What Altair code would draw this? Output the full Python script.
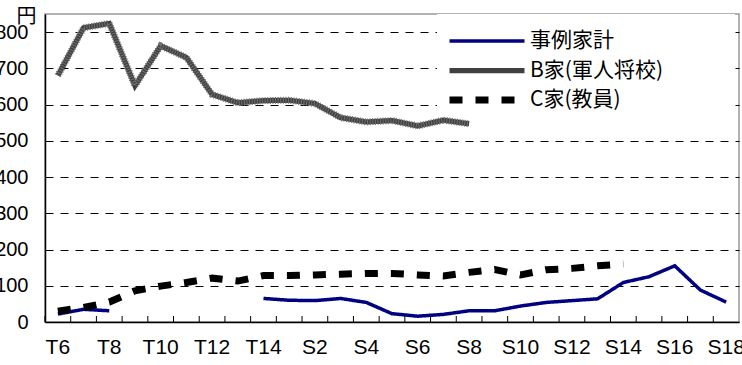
import altair as alt
import pandas as pd

# ---- data ----
categories = ["T6", "T7", "T8", "T9", "T10", "T11", "T12", "T13", "T14", "S1",
              "S2", "S3", "S4", "S5", "S6", "S7", "S8", "S9", "S10", "S11",
              "S12", "S13", "S14", "S15", "S16", "S17", "S18"]
shown_labels = ["T6", "T8", "T10", "T12", "T14", "S2", "S4", "S6", "S8",
                "S10", "S12", "S14", "S16", "S18"]
series_names = ["事例家計", "B家(軍人将校)", "C家(教員)"]

jirei = [22, 35, 31, None, None, None, None, None, 65, 60, 59, 65, 54, 23,
         16, 21, 31, 31, 44, 54, 59, 64, 109, 125, 155, 88, 55]
b_ke = [680, 812, 824, 652, 762, 730, 628, 605, 611, 612, 603, 564, 552, 556,
        541, 557, 547, None, None, None, None, None, None, None, None, None, None]
c_ke = [30, 40, 55, 86, 99, 109, 121, 113, 128, 128, 130, 132, 134, 134, 130,
        127, 137, 145, 130, 144, 148, 155, 160, None, None, None, None]

y_ticks = [0, 100, 200, 300, 400, 500, 600, 700, 800]

# ---- long table, with a segment id so gaps break the line ----
rows = []
for name, vals in zip(series_names, [jirei, b_ke, c_ke]):
    seg = 0
    for cat, v in zip(categories, vals):
        if v is None:
            seg += 1
            continue
        rows.append({"cat": cat, "value": v, "series": name, "seg": f"{name}-{seg}"})
df = pd.DataFrame(rows)
df_b = df[df["series"] == series_names[1]]
df_cat = pd.DataFrame({"cat": categories})

W, H = 694, 308

x_scale = alt.Scale(type="band", domain=categories, paddingInner=0, paddingOuter=0)
x_axis = alt.Axis(values=shown_labels, title=None, labelAngle=0, ticks=False,
                  grid=False, labelFont="Liberation Sans", labelFontSize=21,
                  labelColor="black", labelPadding=14, domainColor="black",
                  domainWidth=1.5)
y_scale = alt.Scale(domain=[0, 850], nice=False, zero=True)
y_axis = alt.Axis(values=y_ticks, title="円", titleAngle=0, titleAlign="center",
                  titleBaseline="middle", titleX=-19, titleY=2,
                  titleFont="Noto Sans CJK JP", titleFontSize=20,
                  titleFontWeight="normal", titleColor="black",
                  ticks=False, grid=True, gridColor="black", gridDash=[8, 7],
                  gridWidth=1, labelFont="Liberation Sans", labelFontSize=20,
                  labelColor="black", labelPadding=17, domainColor="black",
                  domainWidth=1.5)

x_enc = alt.X("cat:N", sort=categories, scale=x_scale, axis=x_axis)
y_enc = alt.Y("value:Q", scale=y_scale, axis=y_axis)

leg = alt.Legend(title=None, orient="none", legendX=401, legendY=16,
                 symbolType="stroke", symbolSize=5625, labelFont="Noto Sans CJK JP",
                 labelFontSize=21, labelColor="black", labelOffset=2,
                 clipHeight=22, rowPadding=7.5, padding=0)

# white box behind legend (covers gridlines like the original)
legend_box = alt.Chart(pd.DataFrame({"k": [0]})).mark_rect(fill="white").encode(
    x=alt.value(392), x2=alt.value(690), y=alt.value(0), y2=alt.value(106)
)

lines = alt.Chart(df).mark_line(strokeCap="butt", strokeJoin="miter").encode(
    x=x_enc,
    y=y_enc,
    detail="seg:N",
    color=alt.Color("series:N", sort=series_names,
                    scale=alt.Scale(domain=series_names,
                                    range=["#000080", "#404040", "#000000"]),
                    legend=leg),
    strokeDash=alt.StrokeDash("series:N", sort=series_names,
                              scale=alt.Scale(domain=series_names,
                                              range=[[1, 0], [1, 0], [13, 13]]),
                              legend=leg),
    strokeWidth=alt.StrokeWidth("series:N", sort=series_names,
                                scale=alt.Scale(domain=series_names,
                                                range=[3.5, 7, 6]),
                                legend=leg),
)

# light stripes over the B line (hatched look)
stripes = alt.Chart(df_b).mark_line(color="#707070", strokeWidth=7,
                                     strokeDash=[1, 1.6], strokeCap="butt").encode(
    x=x_enc, y=y_enc, detail="seg:N"
)

# inward tick marks on the category axis (between categories)
ticks = alt.Chart(df_cat).mark_rule(color="black", strokeWidth=1).encode(
    x=alt.X("cat:N", sort=categories, scale=x_scale, axis=x_axis, bandPosition=0),
    y=alt.value(H), y2=alt.value(H - 6)
)

chart = alt.layer(legend_box, lines, stripes, ticks).properties(
    width=W, height=H,
    autosize=alt.AutoSizeParams(type="none"),
    padding={"left": 45, "top": 14, "right": 3, "bottom": 43},
).configure(background="white").configure_view(
    stroke="#999999", strokeWidth=1.5
)

chart.save("out.html", embed_options={"renderer": "svg", "actions": False})
